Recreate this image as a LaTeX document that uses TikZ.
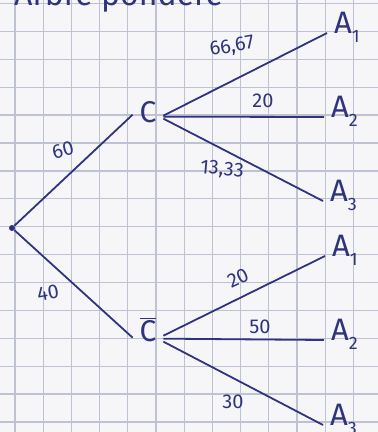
\documentclass[tikz,border=0pt]{standalone}
\usepackage{fontspec}
\setmainfont{Fira Sans}
\definecolor{ink}{RGB}{48,52,125}
\definecolor{gridline}{RGB}{190,194,210}
\definecolor{paper}{RGB}{246,246,249}
\newcommand{\Aidx}[1]{A\raisebox{-.3em}{\fontsize{18}{18}\selectfont #1}}
\tikzset{
  event/.style={font=\fontsize{30}{32}\selectfont, text=ink, inner sep=2pt, outer sep=5pt},
  leaf/.style={font=\fontsize{31}{33}\selectfont, text=ink, inner xsep=7pt, inner ysep=0pt, outer sep=0pt, anchor=base west},
  weight/.style={font=\fontsize{20}{22}\selectfont, text=ink, inner sep=1pt},
  branch/.style={draw=ink, line width=1.8pt},
}
\begin{document}
\begin{tikzpicture}[x=1pt,y=-1pt]
  \useasboundingbox (0,0) rectangle (378,432);
  \clip (0,0) rectangle (378,432);
  \fill[paper] (0,0) rectangle (378,432);

  % squared paper
  \foreach \k in {0,...,13}{
    \draw[gridline,line width=1.3pt] ({15+28.2*\k},0) -- ({15+28.2*\k},432);
  }
  \foreach \k in {0,...,15}{
    \draw[gridline,line width=1.3pt] (0,{3.5+27.9*\k}) -- (378,{3.5+27.9*\k});
  }

  % title, cut by the top edge
  \node[anchor=base west,font=\fontsize{32}{34}\selectfont,text=ink,inner sep=0pt] (title) at (14,5) {Arbre pondéré};

  % root and first level
  \node[circle,fill=ink,inner sep=0pt,minimum size=6pt] (root) at (12,228) {};
  \node[event,anchor=base] (C) at (148,122) {C};
  \node[event,anchor=base] (Cb) at (148,341) {$\overline{\mbox{C}}$};

  % second level
  \node[leaf] (A11) at (327,33) {\Aidx{1}};
  \node[leaf] (A12) at (324,117) {\Aidx{2}};
  \node[leaf] (A13) at (323,201) {\Aidx{3}};
  \node[leaf] (A21) at (325,256) {\Aidx{1}};
  \node[leaf] (A22) at (324,340) {\Aidx{2}};
  \node[leaf] (A23) at (323,425) {\Aidx{3}};

  % branches
  \draw[branch] (root) -- ([yshift=-3pt]C.west);
  \draw[branch] (root) -- ([yshift=-8pt]Cb.west);
  \draw[branch] ([yshift=-4pt]C.east) -- (A11.base west);
  \draw[branch] ([yshift=-5pt]C.east) -- (A12.base west);
  \draw[branch] ([yshift=-7pt]C.east) -- (A13.base west);
  \draw[branch] ([yshift=-6pt]Cb.east) -- (A21.base west);
  \draw[branch] ([yshift=-9pt]Cb.east) -- (A22.base west);
  \draw[branch] ([yshift=-12pt]Cb.east) -- (A23.base west);

  % weights
  \node[weight,rotate=15] (w1) at (63,150) {60};
  \node[weight,rotate=10] (w2) at (48,293) {40};
  \node[weight,rotate=10] (w11) at (232,47) {66,67};
  \node[weight] (w12) at (263,101) {20};
  \node[weight,rotate=-5] (w13) at (222,170) {13,33};
  \node[weight,rotate=25] (w21) at (238,278) {20};
  \node[weight] (w22) at (260,327) {50};
  \node[weight] (w23) at (233,402) {30};
\end{tikzpicture}
\end{document}
